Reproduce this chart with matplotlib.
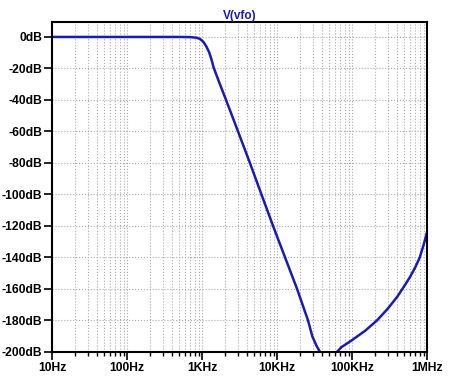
import numpy as np
import matplotlib.pyplot as plt
from matplotlib.ticker import FixedLocator, LogLocator, NullFormatter

# frequency response of V(vfo)
freq = [10, 100, 500, 700, 850, 950, 1050, 1150, 1250, 1340, 1430, 1700,
        2090, 3020, 4350, 6200, 8850, 12800, 18500, 25900, 29500, 33500,
        37400, 50000, 63000, 72000, 100000, 150000, 215000, 300000,
        400000, 500000, 600000, 700000, 800000, 900000, 1000000]
gain = [0, 0, 0, -0.1, -0.5, -1.4, -3.3, -6.3, -10, -14.5, -19.5, -29,
        -40, -60, -80, -100, -120, -140, -160, -180, -190, -196,
        -200, -215, -200, -197, -192.5, -186.5, -180, -172.5,
        -165, -158, -152, -146, -140, -132, -124]

xticks = [10, 100, 1e3, 1e4, 1e5, 1e6]
xlabels = ["10Hz", "100Hz", "1KHz", "10KHz", "100KHz", "1MHz"]
yticks = list(range(0, -201, -20))
ylabels = ["%ddB" % v for v in yticks]

plt.rcParams['font.family'] = ['Liberation Sans', 'DejaVu Sans']

fig = plt.figure(figsize=(4.5, 3.76), dpi=100)
ax = fig.add_axes([0.1156, 0.064, 0.8334, 0.8775])
ax.semilogx(freq, gain, color="#1a1ab4", lw=1.8, solid_joinstyle="round")
ax.set_xlim(10, 1e6)
ax.set_ylim(-200, 9.5)

ax.xaxis.set_major_locator(FixedLocator(xticks))
ax.set_xticklabels(xlabels, fontsize=8.7, fontweight="bold")
ax.xaxis.set_minor_locator(LogLocator(base=10, subs=np.arange(2, 10), numticks=20))
ax.xaxis.set_minor_formatter(NullFormatter())
ax.set_yticks(yticks)
ax.set_yticklabels(ylabels, fontsize=8.7, fontweight="bold")

ax.tick_params(axis="both", which="major", direction="out", length=6, width=1.2, pad=1)
ax.tick_params(axis="x", which="minor", direction="out", length=3, width=1)
ax.grid(True, which="major", axis="both", color="#aaaaaa", ls=":", lw=0.8)
ax.grid(True, which="minor", axis="x", color="#aaaaaa", ls=":", lw=0.8)
for s in ax.spines.values():
    s.set_linewidth(1.5)

ax.set_title("V(vfo)", color="#1a1ab4", fontsize=8.5, fontweight="bold", pad=2)

fig.savefig("out.png", dpi=100)
